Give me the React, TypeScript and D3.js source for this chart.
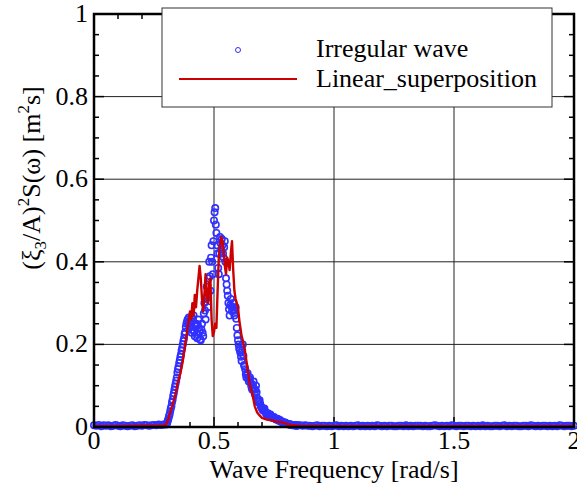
import React from 'react';
import * as d3 from 'd3';

// ---------- data ----------
const xTicks = [0, 0.5, 1, 1.5, 2];
const xTickLabels = ['0', '0.5', '1', '1.5', '2'];
const yTicks = [0, 0.2, 0.4, 0.6, 0.8, 1];
const yTickLabels = ['0', '0.2', '0.4', '0.6', '0.8', '1'];

// Irregular wave (circles): 0.00–0.29 step 0.01
const blueLow = [0.004, 0.003, 0.005, 0.002, 0.004, 0.003, 0.004, 0.002, 0.003, 0.005,
  0.003, 0.002, 0.004, 0.003, 0.002, 0.003, 0.004, 0.002, 0.003, 0.004,
  0.003, 0.005, 0.004, 0.003, 0.004, 0.005, 0.004, 0.006, 0.005, 0.006];
// 0.300–0.850 step 0.0025
const bluePeak = [
  0.006, 0.008, 0.010, 0.015, 0.020, 0.026, 0.030, 0.038, 0.045, 0.050,
  0.060, 0.066, 0.075, 0.082, 0.090, 0.098, 0.105, 0.112, 0.120, 0.132,
  0.140, 0.146, 0.155, 0.162, 0.170, 0.176, 0.185, 0.192, 0.200, 0.208,
  0.215, 0.225, 0.230, 0.242, 0.250, 0.255, 0.260, 0.250, 0.265, 0.240,
  0.245, 0.258, 0.265, 0.228, 0.235, 0.262, 0.270, 0.232, 0.220, 0.244,
  0.250, 0.225, 0.215, 0.248, 0.260, 0.240, 0.230, 0.212, 0.210, 0.236,
  0.250, 0.228, 0.220, 0.275, 0.300, 0.282, 0.260, 0.310, 0.340, 0.318,
  0.290, 0.360, 0.400, 0.365, 0.330, 0.410, 0.440, 0.400, 0.370, 0.450,
  0.500, 0.520, 0.530, 0.490, 0.470, 0.440, 0.420, 0.385, 0.370, 0.420,
  0.460, 0.445, 0.430, 0.455, 0.440, 0.420, 0.410, 0.435, 0.450, 0.400,
  0.360, 0.345, 0.330, 0.318, 0.300, 0.285, 0.270, 0.295, 0.310, 0.292,
  0.280, 0.290, 0.300, 0.285, 0.270, 0.282, 0.290, 0.262, 0.240, 0.222,
  0.210, 0.200, 0.190, 0.186, 0.180, 0.170, 0.160, 0.185, 0.200, 0.172,
  0.150, 0.146, 0.140, 0.128, 0.120, 0.126, 0.130, 0.118, 0.110, 0.116,
  0.120, 0.108, 0.100, 0.094, 0.090, 0.102, 0.110, 0.092, 0.080, 0.090,
  0.100, 0.084, 0.070, 0.064, 0.060, 0.063, 0.065, 0.056, 0.050, 0.048,
  0.045, 0.042, 0.040, 0.044, 0.045, 0.038, 0.035, 0.032, 0.030, 0.032,
  0.033, 0.030, 0.028, 0.029, 0.030, 0.027, 0.025, 0.023, 0.022, 0.023,
  0.024, 0.021, 0.020, 0.019, 0.018, 0.019, 0.020, 0.017, 0.015, 0.016,
  0.017, 0.015, 0.013, 0.012, 0.012, 0.011, 0.010, 0.011, 0.011, 0.010,
  0.009, 0.008, 0.008, 0.007, 0.007, 0.006, 0.006, 0.006, 0.006, 0.005,
  0.005, 0.004, 0.004, 0.005, 0.005, 0.004, 0.004, 0.003, 0.003, 0.004, 0.004];
// 0.86–2.00 step 0.01
const blueHigh = [0.004, 0.003, 0.004, 0.003, 0.003, 0.002, 0.003, 0.004, 0.002, 0.003,
  0.003, 0.002, 0.003, 0.002, 0.003, 0.004, 0.002, 0.003, 0.002, 0.003,
  0.002, 0.003, 0.002, 0.003, 0.004, 0.002, 0.003, 0.002, 0.003, 0.002,
  0.003, 0.002, 0.004, 0.003, 0.002, 0.003, 0.002, 0.003, 0.003, 0.002,
  0.002, 0.003, 0.003, 0.002, 0.004, 0.002, 0.003, 0.002, 0.003, 0.003,
  0.003, 0.002, 0.003, 0.002, 0.002, 0.003, 0.004, 0.003, 0.002, 0.003,
  0.002, 0.003, 0.002, 0.004, 0.003, 0.002, 0.003, 0.003, 0.002, 0.003,
  0.003, 0.002, 0.003, 0.002, 0.003, 0.002, 0.004, 0.002, 0.003, 0.002,
  0.002, 0.003, 0.003, 0.002, 0.003, 0.004, 0.002, 0.003, 0.002, 0.003,
  0.003, 0.002, 0.002, 0.003, 0.003, 0.002, 0.004, 0.003, 0.002, 0.003,
  0.002, 0.003, 0.003, 0.002, 0.003, 0.002, 0.003, 0.002, 0.004, 0.003,
  0.002, 0.003, 0.003, 0.002, 0.003];

// Linear superposition (line)
const redFreq = [0, 0.1, 0.2, 0.29, 0.30, 0.31, 0.32, 0.33, 0.34, 0.35, 0.36, 0.37, 0.38, 0.39,
  0.40, 0.405, 0.41, 0.415, 0.42, 0.425, 0.43, 0.435, 0.44, 0.445, 0.45, 0.455, 0.46, 0.465,
  0.47, 0.475, 0.48, 0.485, 0.49, 0.495, 0.50, 0.505, 0.51, 0.515, 0.52, 0.525, 0.53, 0.535,
  0.54, 0.545, 0.55, 0.555, 0.56, 0.565, 0.57, 0.575, 0.58, 0.585, 0.59, 0.595, 0.60, 0.605,
  0.61, 0.615, 0.62, 0.63, 0.64, 0.65, 0.66, 0.67, 0.68, 0.69, 0.70, 0.72, 0.74, 0.76, 0.78,
  0.80, 0.82, 0.85, 1.0, 1.5, 2.0];
const redVal = [0.002, 0.002, 0.003, 0.003, 0.005, 0.02, 0.04, 0.06, 0.08, 0.11, 0.13, 0.16, 0.20, 0.24,
  0.28, 0.26, 0.30, 0.27, 0.32, 0.29, 0.33, 0.36, 0.39, 0.36, 0.31, 0.28, 0.32, 0.37,
  0.32, 0.30, 0.35, 0.36, 0.26, 0.22, 0.23, 0.25, 0.24, 0.33, 0.41, 0.44, 0.46, 0.45,
  0.43, 0.39, 0.37, 0.41, 0.40, 0.38, 0.42, 0.45, 0.38, 0.33, 0.31, 0.30, 0.29, 0.26,
  0.24, 0.22, 0.21, 0.18, 0.14, 0.10, 0.08, 0.05, 0.035, 0.028, 0.022, 0.018, 0.016, 0.013, 0.012,
  0.008, 0.005, 0.003, 0.002, 0.002, 0.002];

// ---------- layout ----------
const W = 577, H = 490;
const L = 94, R = 574, T = 14, B = 427;
const FONT = "'Liberation Serif', 'Times New Roman', 'DejaVu Serif', serif";
const BLUE = '#3030ff';
const RED = '#cc0000';
const FS = 26;

export default function App() {
  const x = d3.scaleLinear().domain([0, 2]).range([L, R]);
  const y = d3.scaleLinear().domain([0, 1]).range([B, T]);

  const blue: [number, number][] = [
    ...blueLow.map((v, i) => [i * 0.01, v] as [number, number]),
    ...bluePeak.map((v, i) => [0.3 + i * 0.0025, v] as [number, number]),
    ...blueHigh.map((v, i) => [0.86 + i * 0.01, v] as [number, number]),
  ];
  const red: [number, number][] = redFreq.map((f, i) => [f, redVal[i]]);
  const line = d3.line<[number, number]>().x(d => x(d[0])).y(d => y(d[1]));

  const xMinor = d3.range(0, 21).map(i => i / 10);
  const yMinor = d3.range(0, 21).map(i => i / 20);

  const txt = { fontFamily: FONT, fontSize: FS, fill: '#000' } as React.CSSProperties;

  return (
    <svg width={W} height={H} style={{ position: 'absolute', left: 0, top: 0, background: '#fff', fontFamily: FONT }}>
      <rect x={0} y={0} width={W} height={H} fill="#fff" />
      {/* grid */}
      {xTicks.slice(1, -1).map(t => (
        <line key={'gx' + t} x1={x(t)} x2={x(t)} y1={T} y2={B} stroke="#222" strokeWidth={1} />
      ))}
      {yTicks.slice(1, -1).map(t => (
        <line key={'gy' + t} x1={L} x2={R} y1={y(t)} y2={y(t)} stroke="#222" strokeWidth={1} />
      ))}
      {/* ticks */}
      {xMinor.map(t => {
        const major = Math.abs(t * 2 - Math.round(t * 2)) < 1e-6;
        const len = major ? 10 : 5;
        return (
          <g key={'xm' + t}>
            <line x1={x(t)} x2={x(t)} y1={B} y2={B - len} stroke="#000" strokeWidth={1.5} />
            <line x1={x(t)} x2={x(t)} y1={T} y2={T + len} stroke="#000" strokeWidth={1.5} />
          </g>
        );
      })}
      {yMinor.map(t => {
        const major = Math.abs(t * 5 - Math.round(t * 5)) < 1e-6;
        const len = major ? 10 : 5;
        return (
          <g key={'ym' + t}>
            <line x1={L} x2={L + len} y1={y(t)} y2={y(t)} stroke="#000" strokeWidth={1.5} />
            <line x1={R} x2={R - len} y1={y(t)} y2={y(t)} stroke="#000" strokeWidth={1.5} />
          </g>
        );
      })}
      {/* data */}
      {blue.map((d, i) => (
        <circle key={'b' + i} cx={x(d[0])} cy={y(d[1])} r={3.2} fill="none" stroke={BLUE} strokeWidth={1.6} />
      ))}
      <path d={line(red) || ''} fill="none" stroke={RED} strokeWidth={2.4} strokeLinejoin="round" />
      {/* frame */}
      <rect x={L} y={T} width={R - L} height={B - T} fill="none" stroke="#000" strokeWidth={2.5} />
      {/* tick labels */}
      {xTicks.map((t, i) => (
        <text key={'xl' + t} x={x(t)} y={449} textAnchor="middle" style={txt}>{xTickLabels[i]}</text>
      ))}
      {yTicks.map((t, i) => (
        <text key={'yl' + t} x={88} y={y(t) + 8} textAnchor="end" style={txt}>{yTickLabels[i]}</text>
      ))}
      {/* axis titles */}
      <text x={(L + R) / 2} y={478} textAnchor="middle" style={txt}>Wave Frequency [rad/s]</text>
      <text transform="translate(40, 178) rotate(-90)" textAnchor="middle" style={txt}>
        (ξ<tspan fontSize={17} dy={6}>3</tspan><tspan dy={-6}>/A)</tspan><tspan fontSize={17} dy={-11}>2</tspan>
        <tspan dy={11}>S(ω) [m</tspan><tspan fontSize={17} dy={-11}>2</tspan><tspan dy={11}>s]</tspan>
      </text>
      {/* legend */}
      <rect x={162} y={8} width={390} height={99} fill="#fff" stroke="#333" strokeWidth={1} />
      <circle cx={238} cy={50} r={2.5} fill="none" stroke={BLUE} strokeWidth={1} />
      <line x1={179} x2={297} y1={79} y2={79} stroke={RED} strokeWidth={2} />
      <text x={316} y={57} style={txt}>Irregular wave</text>
      <text x={316} y={87} style={txt}>Linear_superposition</text>
    </svg>
  );
}
